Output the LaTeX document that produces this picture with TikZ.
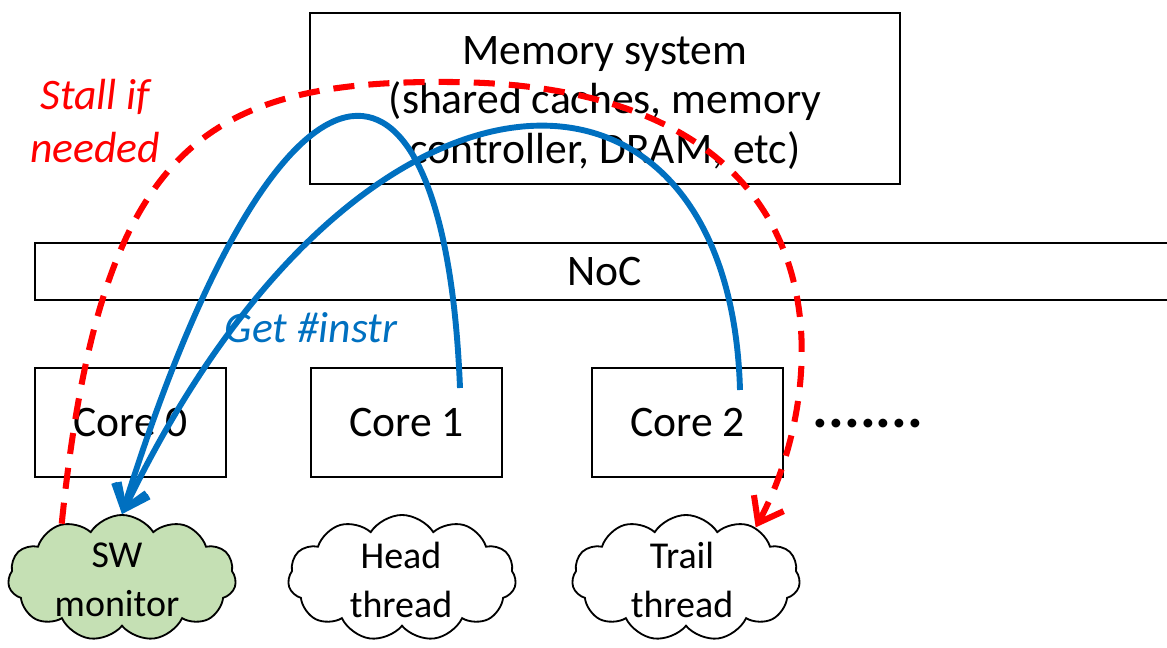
\documentclass[tikz,border=0pt]{standalone}
\usepackage{fontspec}
\setmainfont{Carlito}
\usetikzlibrary{arrows.meta,shapes.symbols}

\definecolor{arrowblue}{HTML}{0070C0}
\definecolor{stallred}{HTML}{FF0000}
\definecolor{monitorgreen}{HTML}{C5E0B4}

\begin{document}
\begin{tikzpicture}[x=0.025cm, y=-0.025cm,
    every node/.style={font=\fontsize{31}{35.5}\selectfont, inner sep=0pt},
    block/.style={draw, line width=1.4pt},
    thread/.style={cloud, cloud puffs=11, cloud puff arc=115, aspect=1.8,
        draw, line width=1.3pt, minimum width=5.7cm, minimum height=3.15cm},
    threadtext/.style={align=center, font=\fontsize{27}{35}\selectfont},
    getinstr/.style={draw=arrowblue, line width=4.2pt,
        -{Straight Barb[length=16pt, width=24pt, line width=4.2pt]}},
    stall/.style={draw=stallred, line width=4.3pt, dash pattern=on 15pt off 10pt,
        -{Straight Barb[length=16pt, width=24pt, line width=4.3pt]}}
    ]
    \useasboundingbox (0,0) rectangle (1167,648);

    % Memory system and network
    \node[block, minimum width=14.75cm, minimum height=4.275cm] (mem) at (605,98.5) {};
    \node[align=center] (memtext) at (605,103) {Memory system\\(shared caches, memory\\controller, DRAM, etc)};
    \node[block, minimum width=28.5cm, minimum height=1.425cm] (noc) at (605,271.5) {NoC};

    % Cores
    \node[block, minimum width=4.775cm, minimum height=2.725cm] (core0) at (130.5,422.5) {Core 0};
    \node[block, minimum width=4.775cm, minimum height=2.725cm] (core1) at (406.5,422.5) {Core 1};
    \node[block, minimum width=4.775cm, minimum height=2.725cm] (core2) at (687.5,422.5) {Core 2};
    \node[anchor=base, font=\fontsize{42}{42}\bfseries] (more) at (868,428) {.......};

    % Threads
    \node[thread, fill=monitorgreen] (sw) at (122,578) {};
    \node[threadtext] (swtext) at (117,580) {SW\\monitor};
    \node[thread] (head) at (402,578) {};
    \node[threadtext] (headtext) at (401,580) {Head\\thread};
    \node[thread] (trail) at (686,578) {};
    \node[threadtext] (trailtext) at (682,580) {Trail\\thread};

    % Labels
    \node[align=center, text=stallred, font=\fontsize{31}{37.5}\selectfont\itshape] (stalllabel) at (95,121) {Stall if\\needed};
    \node[text=arrowblue, font=\fontsize{31}{35}\selectfont\itshape] (getlabel) at (311,328) {Get \#instr};

    % Connectors
    \coordinate (c1out) at (460,388);
    \coordinate (c2out) at (740,390);
    \draw[getinstr] (c1out) .. controls (445,5) and (280,10) .. (sw.north);
    \draw[getinstr] (c2out) .. controls (730,20) and (360,20) .. (sw.north);
    \draw[stall] (sw.138) .. controls (100,150) and (200,80) .. (450,82)
        .. controls (860,85) and (830,390) .. (trail.36);
\end{tikzpicture}
\end{document}
